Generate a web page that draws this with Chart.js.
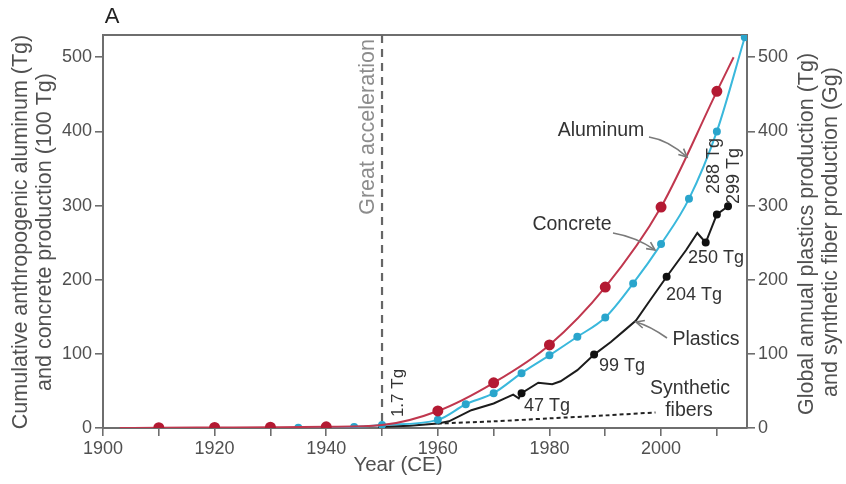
<!DOCTYPE html>
<html>
<head>
<meta charset="utf-8">
<script src="https://cdn.jsdelivr.net/npm/chart.js@4"></script>
<style>
  html, body { margin: 0; padding: 0; background: #fff; }
  #wrap { width: 846px; height: 484px; }
</style>
</head>
<body>
<div id="wrap"><canvas id="c" width="846" height="484"></canvas></div>
<script>
// Aluminio e concreto acumulados (eixo esquerdo), plasticos e fibras (eixo direito)
const aluYears = [1903, 1910, 1920, 1930, 1940, 1950, 1960, 1970, 1980, 1990, 2000, 2010, 2013];
const aluValues = [0, 0.4, 0.7, 1, 1.6, 4, 23, 61, 112, 190, 298, 454, 500];

const conYears = [1935, 1945, 1950, 1960, 1965, 1970, 1975, 1980, 1985, 1990, 1995, 2000, 2005, 2010, 2015];
const conValues = [0.5, 1.5, 4, 11, 32, 47, 74, 98, 123, 149, 195, 248, 309, 400, 527];

const plaYears = [1950, 1955, 1960, 1962, 1966, 1970, 1972, 1973.5, 1974.5, 1975, 1978, 1980.5, 1982, 1985, 1988, 1991, 1993.5, 1995.5, 1998, 2001, 2004.5, 2006.5, 2008, 2010, 2012];
const plaValues = [1.7, 3, 6, 9, 24, 33, 40, 45, 40, 47, 61, 59, 63, 78, 99, 116, 132, 145, 172, 204, 240, 263, 250, 288, 299];
const plaLabelled = [1.7, 47, 99, 204, 250, 288, 299];

const synYears = [1960, 1970, 1980, 1990, 1999];
const synValues = [6, 9, 13, 17, 21];

const xTicks = [1900, 1920, 1940, 1960, 1980, 2000];
const yTicks = [0, 100, 200, 300, 400, 500];

const pts = (xs, ys) => xs.map((x, i) => ({ x, y: ys[i] }));
const FONT = "'Liberation Sans', Arial, sans-serif";
const AXIS = '#6e6e6e';
const TXT = '#505050';

const chartArea = { left: 103, right: 747, top: 35, bottom: 428 };

function text(ctx, s, x, y, size, color, rot) {
  ctx.save();
  ctx.translate(x, y);
  if (rot) ctx.rotate(rot);
  ctx.font = `${size}px ${FONT}`;
  ctx.fillStyle = color;
  ctx.textAlign = 'center';
  ctx.textBaseline = 'middle';
  ctx.fillText(s, 0, 0);
  ctx.restore();
}

function arrow(ctx, x0, y0, cx, cy, x1, y1) {
  ctx.save();
  ctx.strokeStyle = '#7a7a7a';
  ctx.lineWidth = 1.6;
  ctx.beginPath();
  ctx.moveTo(x0, y0);
  ctx.quadraticCurveTo(cx, cy, x1, y1);
  ctx.stroke();
  const a = Math.atan2(y1 - cy, x1 - cx);
  ctx.beginPath();
  ctx.moveTo(x1 - 9 * Math.cos(a - 0.45), y1 - 9 * Math.sin(a - 0.45));
  ctx.lineTo(x1, y1);
  ctx.lineTo(x1 - 9 * Math.cos(a + 0.45), y1 - 9 * Math.sin(a + 0.45));
  ctx.stroke();
  ctx.restore();
}

const annotations = {
  id: 'annotations',
  beforeDatasetsDraw(chart) {
    const { ctx, scales } = chart;
    const a = chart.chartArea;
    // linha de topo do quadro
    ctx.save();
    ctx.strokeStyle = AXIS;
    ctx.lineWidth = 2;
    ctx.beginPath();
    ctx.moveTo(a.left, a.top);
    ctx.lineTo(a.right, a.top);
    ctx.stroke();
    // Great acceleration (1950)
    const gx = scales.x.getPixelForValue(1950);
    ctx.setLineDash([8, 6]);
    ctx.strokeStyle = '#666';
    ctx.lineWidth = 2.2;
    ctx.beginPath();
    ctx.moveTo(gx, a.top);
    ctx.lineTo(gx, a.bottom);
    ctx.stroke();
    ctx.restore();
    text(ctx, 'Great acceleration', gx - 14, 127, 21.5, '#8c8c8c', -Math.PI / 2);
  },
  afterDraw(chart) {
    const { ctx } = chart;
    text(ctx, 'A', 112, 17, 22, '#222');
    // titulos dos eixos
    text(ctx, 'Cumulative anthropogenic aluminum (Tg)', 21, 232, 21.5, TXT, -Math.PI / 2);
    text(ctx, 'and concrete production (100 Tg)', 45, 232, 21.5, TXT, -Math.PI / 2);
    text(ctx, 'Global annual plastics production (Tg)', 807, 234, 21.5, TXT, -Math.PI / 2);
    text(ctx, 'and synthetic fiber production (Gg)', 831, 232, 21.5, TXT, -Math.PI / 2);
    text(ctx, 'Year (CE)', 398, 465, 20.5, TXT);
    // rotulos das series
    const D = '#333';
    text(ctx, 'Aluminum', 601, 131, 19.5, D);
    text(ctx, 'Concrete', 572, 225, 19.5, D);
    text(ctx, 'Plastics', 706, 340, 19.5, D);
    text(ctx, 'Synthetic', 690, 389, 19.5, D);
    text(ctx, 'fibers', 689, 411, 19.5, D);
    text(ctx, '1.7 Tg', 398, 393, 17, D, -Math.PI / 2);
    text(ctx, '47 Tg', 547, 406, 18, D);
    text(ctx, '99 Tg', 622, 366, 18, D);
    text(ctx, '204 Tg', 694, 295, 18, D);
    text(ctx, '250 Tg', 716, 258, 18, D);
    text(ctx, '288 Tg', 714, 166, 18, D, -Math.PI / 2);
    text(ctx, '299 Tg', 734, 176, 18, D, -Math.PI / 2);
    arrow(ctx, 649, 137, 668, 140, 687, 157);
    arrow(ctx, 613, 233, 636, 237, 655, 250);
    arrow(ctx, 667, 338, 650, 326, 636, 322);
  },
};

const scaleBase = {
  type: 'linear',
  min: 0,
  max: 530,
  border: { display: true, color: AXIS, width: 2 },
  grid: { drawOnChartArea: false, drawTicks: true, tickLength: 8, color: AXIS, lineWidth: 1.6 },
  ticks: {
    stepSize: 100, includeBounds: false, padding: 3, color: TXT,
    font: { family: FONT, size: 18 },
  },
};

new Chart(document.getElementById('c'), {
  type: 'line',
  data: {
    datasets: [
      {
        label: 'Aluminum',
        data: pts(aluYears, aluValues),
        yAxisID: 'y',
        borderColor: '#c0374e',
        backgroundColor: '#b41a33',
        pointBorderColor: '#b41a33',
        borderWidth: 2,
        cubicInterpolationMode: 'monotone',
        pointRadius: (c) => {
          const x = c.raw && c.raw.x;
          return x % 10 === 0 && x !== 1950 ? 4.5 : 0;
        },
      },
      {
        label: 'Concrete',
        data: pts(conYears, conValues),
        yAxisID: 'y',
        borderColor: '#3ab8dc',
        backgroundColor: '#2aa5cc',
        pointBorderColor: '#2aa5cc',
        borderWidth: 2,
        cubicInterpolationMode: 'monotone',
        pointRadius: 3,
      },
      {
        label: 'Plastics',
        data: pts(plaYears, plaValues),
        yAxisID: 'y2',
        borderColor: '#1c1c1c',
        backgroundColor: '#111',
        pointBorderColor: '#111',
        borderWidth: 2,
        tension: 0,
        pointRadius: (c) => (c.raw && plaLabelled.includes(c.raw.y) ? 3 : 0),
      },
      {
        label: 'Synthetic fibers',
        data: pts(synYears, synValues),
        yAxisID: 'y2',
        borderColor: '#222',
        borderWidth: 2,
        borderDash: [4, 3],
        tension: 0.3,
        pointRadius: 0,
      },
    ],
  },
  options: {
    responsive: false,
    animation: false,
    layout: { padding: { top: chartArea.top, left: 0, right: 0, bottom: 0 } },
    plugins: { legend: { display: false }, tooltip: { enabled: false } },
    scales: {
      x: {
        type: 'linear',
        min: 1900,
        max: 2015.4,
        border: { display: true, color: AXIS, width: 2 },
        grid: { drawOnChartArea: false, drawTicks: true, tickLength: 8, color: AXIS, lineWidth: 1.6 },
        ticks: {
          stepSize: 10, includeBounds: false, autoSkip: false, maxRotation: 0, padding: 2,
          color: TXT, font: { family: FONT, size: 18 },
          callback: (v) => (xTicks.includes(v) ? String(v) : ''),
        },
        afterFit: (s) => { s.height = 484 - chartArea.bottom; },
      },
      y: {
        ...scaleBase,
        position: 'left',
        ticks: { ...scaleBase.ticks, callback: (v) => (yTicks.includes(v) ? String(v) : '') },
        afterFit: (s) => { s.width = chartArea.left; },
      },
      y2: {
        ...scaleBase,
        position: 'right',
        ticks: { ...scaleBase.ticks, callback: (v) => (yTicks.includes(v) ? String(v) : '') },
        afterFit: (s) => { s.width = 846 - chartArea.right; },
      },
    },
  },
  plugins: [annotations],
});
</script>
</body>
</html>
